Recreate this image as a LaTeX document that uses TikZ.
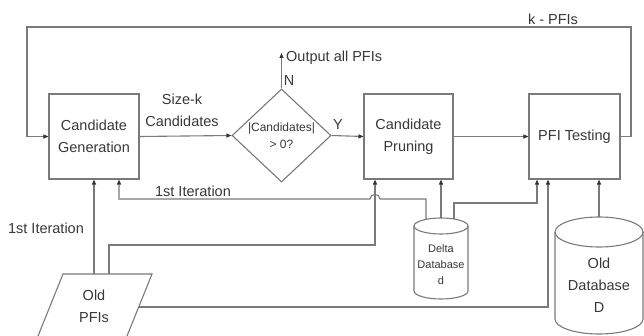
\documentclass[tikz,border=0pt]{standalone}
\usepackage{fontspec}
\setmainfont{Liberation Sans}
\usetikzlibrary{arrows.meta,shapes.geometric}
\definecolor{ln}{HTML}{7A7A7A}
\definecolor{tx}{HTML}{383838}
\definecolor{tip}{HTML}{333333}
\begin{document}
\begin{tikzpicture}[x=1pt,y=-1pt,
  line/.style={draw=ln, line width=1.1pt},
  arr/.style={line, -{Triangle[length=5pt,width=4pt,color=tip]}},
  box/.style={draw=ln, line width=1.1pt, minimum width=90pt, minimum height=85pt, inner sep=0pt, align=center, text=tx, font=\fontsize{14.5}{22}\selectfont},
  lbl/.style={text=tx, font=\fontsize{14.5}{22}\selectfont, align=center, inner sep=0pt},
  small/.style={text=tx, align=center, inner sep=0pt}]
\useasboundingbox (0,0) rectangle (644,336);
\fill[white] (0,0) rectangle (644,336);
% main boxes
\node[box] (cg) at (94,136.5) {Candidate\\Generation};
\node[box, minimum width=89pt] (cp) at (408.5,136.5) {Candidate\\Pruning};
\node[box, minimum width=91pt] (pt) at (574.5,136.5) {PFI Testing};
\node[diamond, draw=ln, line width=1.1pt, minimum width=99pt, minimum height=93pt, inner sep=0pt] (dec) at (281.5,135.5) {};
\node[small, font=\fontsize{12}{17}\selectfont] (dect) at (dec.center) {|Candidates|\\> 0?};
% output
\coordinate (out) at (281.5,53);
\draw[arr] (dec.north) -- (out);
\node[lbl, anchor=west] (outl) at (286,57.5) {Output all PFIs};
\node[lbl] (nl) at (289,81) {N};
\node[lbl] (yl) at (338,125) {Y};
\node[lbl] (szl) at (182,110) {Size-k\\Candidates};
% main flow
\draw[arr] (cg.east) -- (dec.west);
\draw[arr] (dec.east) -- (cp.west);
\draw[arr] (cp.east) -- (pt.west);
% feedback
\coordinate (fr) at (631,27);
\coordinate (fl) at (27,27);
\draw[arr] (pt.east) -| (fr) -- (fl) |- (cg.west);
\node[lbl] (kl) at (553,19) {k - PFIs};
% Old PFIs parallelogram
\draw[line] (36.4,340) -- (63,274) -- (152,274) -- (125.4,340);
\node[lbl] (op) at (94,306.5) {Old\\PFIs};
\coordinate (op1) at (94,274);
\coordinate (op2) at (109,274);
\coordinate (op3) at (139,307);
% Delta database
\draw[line, fill=white] (414,226) -- (414,291) .. controls (414,295.42) and (426.09,299) .. (441,299) .. controls (455.91,299) and (468,295.42) .. (468,291) -- (468,226);
\draw[line] (441,226) ellipse [x radius=27pt, y radius=8pt];
\node[small, font=\fontsize{11}{16}\selectfont] (dd) at (441,264.5) {Delta\\Database\\d};
\coordinate (d1) at (426,219.4);
\coordinate (d2) at (441,218);
\coordinate (d3) at (454,219);
% Old database
\draw[line, fill=white] (555,232) -- (555,319) .. controls (555,327.28) and (574.7,334) .. (599,334) .. controls (623.3,334) and (643,327.28) .. (643,319) -- (643,232);
\draw[line] (599,232) ellipse [x radius=44pt, y radius=15pt];
\node[lbl] (od) at (599,285) {Old\\Database\\D};
\coordinate (o1) at (599,217);
% connectors
\draw[arr] (op1) -- (op1 |- cg.south);
\node[lbl] (it1) at (46,228) {1st Iteration};
\coordinate (j1) at (375,245);
\draw[arr] (op2) |- (j1) -- (j1 |- cp.south);
\coordinate (j2) at (548,307);
\draw[arr] (op3) -- (j2) -- (j2 |- pt.south);
\coordinate (h1) at (119,199);
\draw[arr] (d1) -- (426,199) -- (380,199) .. controls (380,193) and (370,193) .. (370,199) -- (h1) -- (h1 |- cg.south);
\node[lbl] (it2) at (193,191) {1st Iteration};
\draw[arr] (d2) -- (d2 |- cp.south);
\coordinate (j3) at (537,203);
\draw[arr] (d3) |- (j3) -- (j3 |- pt.south);
\draw[arr] (o1) -- (o1 |- pt.south);
\end{tikzpicture}
\end{document}
